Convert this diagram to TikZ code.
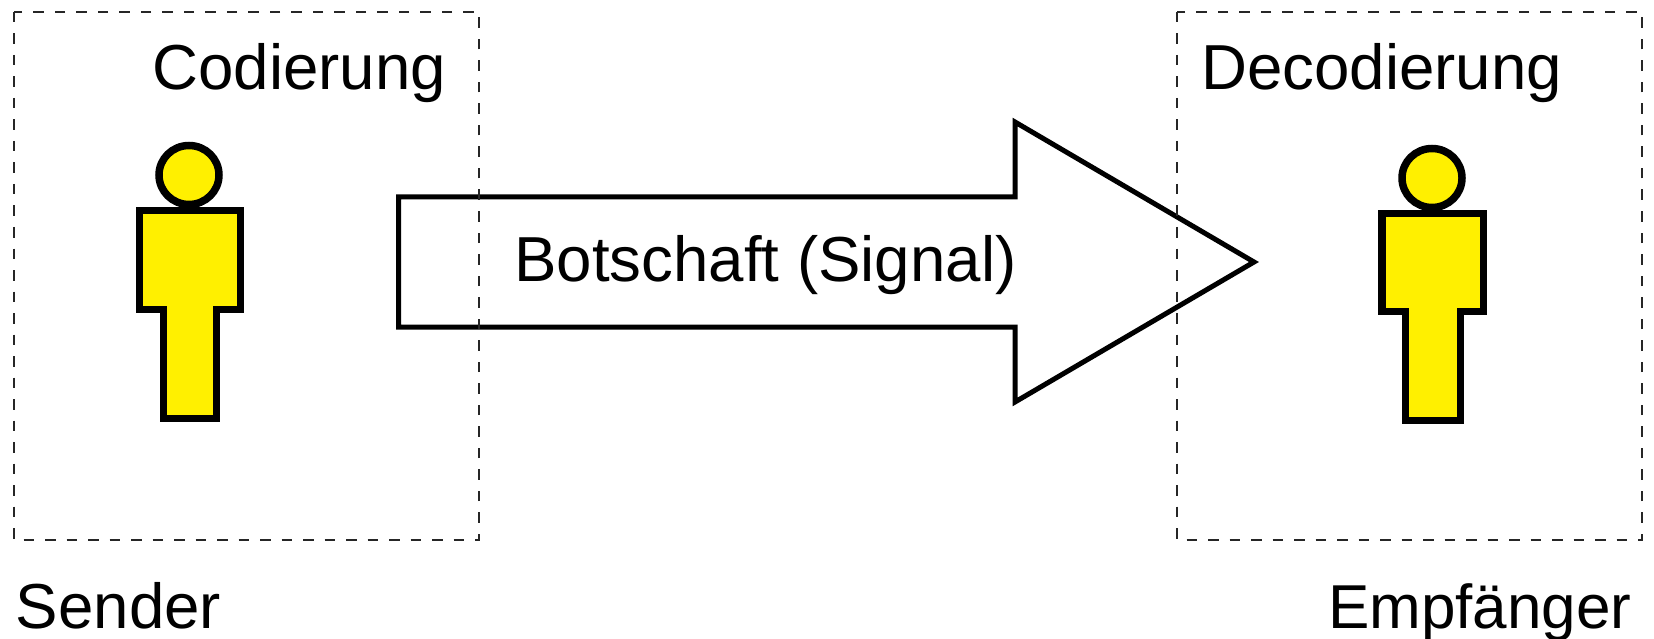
\documentclass[tikz,border=0pt]{standalone}
\usepackage{fontspec}
\setmainfont{Liberation Sans}
\definecolor{figyellow}{HTML}{FFF000}
\begin{document}
\begin{tikzpicture}[x=1pt,y=-1pt,
  zone/.style={draw=black!85,line width=1.9pt,dash pattern=on 10.5pt off 11pt},
  figure/.style={draw=black,fill=figyellow,line width=7.5pt,miter limit=10},
  bigarrow/.style={draw=black,line width=5pt,line join=miter},
  lbl/.style={anchor=base west,inner sep=0pt,outer sep=0pt,font=\fontsize{63.6}{70}\selectfont}]
\useasboundingbox (0,0) rectangle (1654,639);
\fill[white] (0,0) rectangle (1654,639);
% message arrow
\draw[bigarrow] (398.5,197) -- (1015,197) -- (1015,122) -- (1254,262) -- (1015,402) -- (1015,327) -- (398.5,327) -- cycle;
% zones
\draw[zone] (14,12) rectangle (479,540);
\draw[zone] (1177,12) rectangle (1642,540);
% sender
\draw[figure] (189,175) ellipse (30 and 29.5);
\draw[figure] (139.5,210.5) -- (240.5,210.5) -- (240.5,309.5) -- (216.5,309.5) -- (216.5,418.5) -- (163.5,418.5) -- (163.5,309.5) -- (139.5,309.5) -- cycle;
% receiver
\draw[figure] (1432,178) ellipse (30 and 29.5);
\draw[figure] (1382,213.5) -- (1483.5,213.5) -- (1483.5,311.5) -- (1460.5,311.5) -- (1460.5,420.5) -- (1405.5,420.5) -- (1405.5,311.5) -- (1382,311.5) -- cycle;
% labels
\node[lbl] (cod) at (152.5,90) {Codierung};
\node[lbl] (dec) at (1201.5,90) {Decodierung};
\node[lbl] (sig) at (514.5,281.5) {Botschaft (Signal)};
\node[lbl] (snd) at (16,628.5) {Sender};
\node[lbl,font=\fontsize{62}{70}\selectfont] (emp) at (1328,628.5) {Empfänger};
\end{tikzpicture}
\end{document}
